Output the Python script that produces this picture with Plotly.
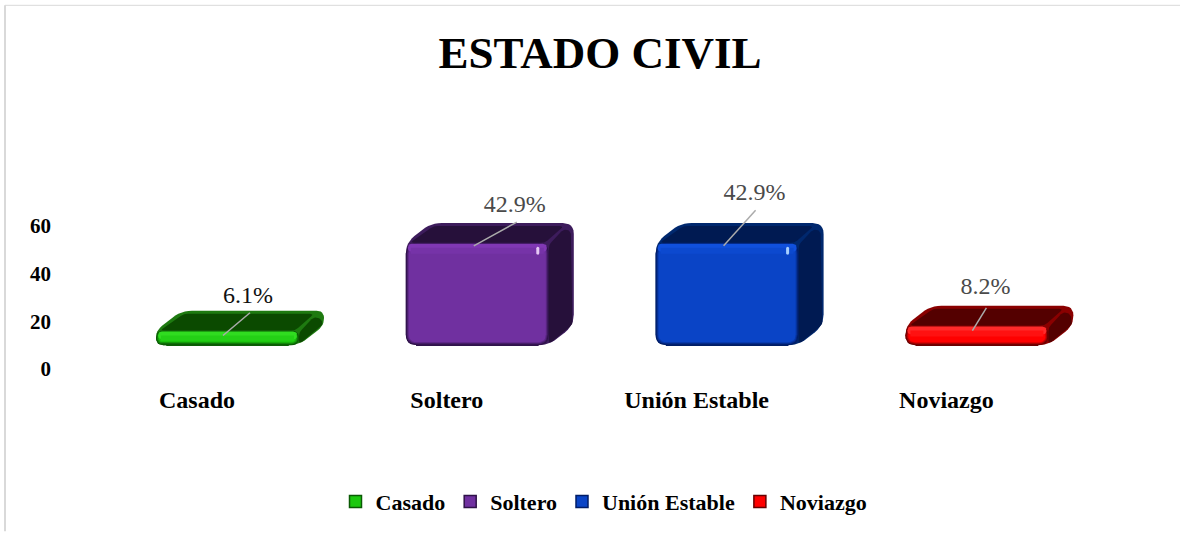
import math
import plotly.graph_objects as go

# ---- data ----
categories = ["Casado", "Soltero", "Unión Estable", "Noviazgo"]
values = [6.1, 42.9, 42.9, 8.2]
tick_values = [0, 20, 40, 60]
title_text = "ESTADO CIVIL"

# ---- style ----
face = ["#1CC80F", "#7030A0", "#0A44C6", "#FF0000"]
bright = ["#30DC20", "#8038B4", "#1050DC", "#FF2A2A"]
edge = ["#0A5A04", "#2E1248", "#001C66", "#660000"]
top_c = ["#0B4A00", "#26103A", "#001A52", "#540000"]
rim = ["#1E7A10", "#3D1C5C", "#00286E", "#8A0000"]
label_c = ["#111111", "#4A4A4A", "#4A4A4A", "#4A4A4A"]
FONT = "Liberation Serif"

W, H = 1189, 535
L, R, T, B = 60, 49, 178, 164      # margins
CAT0_PX, CAT_STEP = 197.0, 249.8   # pixel of first category, category spacing
ZERO_PX, Y_SCALE = 371.0, 2.41     # pixel of y=0, pixels per unit
FLOOR = 10.0                       # the 3-D floor sits above the axis zero
BAR_OFF, BAR_W = -41.0, 143.0      # front-face offset and width, px
DX, DY = 25.0, 20.0                # depth of the extrusion, px
RADIUS = 11.0
# label centre and leader line, relative to (front-left px, front-top px)
label_off = [(92, -34), (109, -37), (99, -49), (80, -38)]
leader_off = [((67, 5), (94, -18)), ((68, 3), (111, -21)), ((68, 3), (100, -33)), ((67, 5), (81, -18))]


def xd(px):
    return (px - CAT0_PX) / CAT_STEP


def yd(py):
    return (ZERO_PX - py) / Y_SCALE


def ypx(v):
    return ZERO_PX - v * Y_SCALE


def rounded(points, r):
    """Rounded polygon (pixel space), corners sampled as quadratic curves."""
    n = len(points)
    out = []
    for i in range(n):
        p0, p1, p2 = points[i - 1], points[i], points[(i + 1) % n]
        d1 = math.dist(p0, p1)
        d2 = math.dist(p1, p2)
        rr = min(r, d1 / 2, d2 / 2)
        a = (p1[0] + (p0[0] - p1[0]) * rr / d1, p1[1] + (p0[1] - p1[1]) * rr / d1)
        b = (p1[0] + (p2[0] - p1[0]) * rr / d2, p1[1] + (p2[1] - p1[1]) * rr / d2)
        for k in range(7):
            t = k / 6
            out.append(((1 - t) ** 2 * a[0] + 2 * t * (1 - t) * p1[0] + t * t * b[0],
                        (1 - t) ** 2 * a[1] + 2 * t * (1 - t) * p1[1] + t * t * b[1]))
    out.append(out[0])
    return out


def mix(c1, c2, t):
    a = [int(c1[i:i + 2], 16) for i in (1, 3, 5)]
    b = [int(c2[i:i + 2], 16) for i in (1, 3, 5)]
    return "#%02X%02X%02X" % tuple(round(a[i] + (b[i] - a[i]) * t) for i in range(3))


def poly(pts, color):
    return go.Scatter(x=[xd(p[0]) for p in pts], y=[yd(p[1]) for p in pts],
                      mode="lines", fill="toself", fillcolor=color,
                      line=dict(width=0, color=color), hoverinfo="skip", showlegend=False)


def rect(x0, x1, y0, y1):
    return [(x0, y0), (x1, y0), (x1, y1), (x0, y1)]


fig = go.Figure()
xpos = list(range(len(categories)))

# real bars (carry values and legend); the bevelled faces are drawn over them
for i, (c, v) in enumerate(zip(categories, values)):
    fig.add_trace(go.Bar(
        x=[i], y=[v], base=FLOOR, name=c,
        width=(BAR_W - 2 * RADIUS) / CAT_STEP,
        offset=(BAR_OFF + RADIUS) / CAT_STEP,
        marker=dict(color=face[i], line=dict(color=edge[i], width=1.5)),
        hovertemplate="%{fullData.name}: " + str(v) + "%<extra></extra>",
    ))

for i, v in enumerate(values):
    x0 = CAT0_PX + i * CAT_STEP + BAR_OFF
    x1 = x0 + BAR_W
    y1 = ypx(FLOOR)
    y0 = ypx(FLOOR + v)
    # extruded silhouette
    sil = [(x0, y1), (x0, y0), (x0 + DX, y0 - DY), (x1 + DX, y0 - DY), (x1 + DX, y1 - DY), (x1, y1)]
    fig.add_trace(poly(rounded(sil, RADIUS), rim[i]))
    # dark top and side planes
    fig.add_trace(poly(rounded([(x0 + 4, y0), (x0 + DX + 3, y0 - DY + 3), (x1 + DX - 10, y0 - DY + 3), (x1 - 4, y0)], 4), top_c[i]))
    fig.add_trace(poly(rounded([(x1, y0 + 2), (x1 + DX - 10, y0 - DY + 6), (x1 + DX - 3, y0 - DY + 8),
                                (x1 + DX - 1, y1 - DY - 1), (x1, y1 - 1)], 4), top_c[i]))
    # front face with bevel rings
    for inset, t in [(0, 0.0), (1, 0.35), (2, 0.7), (3, 1.0)]:
        fig.add_trace(poly(rounded(rect(x0 + inset, x1 - inset, y0 + inset, y1 - inset),
                                   max(RADIUS - inset, 2)), mix(edge[i], face[i], t)))
    h = y1 - y0
    fig.add_trace(poly(rounded(rect(x0 + 2, x1 - 2, y0 + 1, y0 + min(9, h * 0.6)), min(RADIUS - 2, 4)), bright[i]))
    fig.add_trace(poly(rect(x0 + 5, x1 - 5, y0 + min(5, h * 0.35), y0 + min(11, h * 0.7)), mix(bright[i], face[i], 0.6)))
    if v > 20:
        sx, sy = x1 - 11, y0 + 8
        fig.add_trace(poly(rounded(rect(sx - 1.5, sx + 1.5, sy - 4, sy + 4), 1.5), "#E6C8F5" if i == 1 else "#A8D0FF"))
    # leader line
    (ax, ay), (bx, by) = leader_off[i]
    fig.add_trace(go.Scatter(x=[xd(x0 + ax), xd(x0 + bx)], y=[yd(y0 + ay), yd(y0 + by)], mode="lines",
                             line=dict(color="#ABABAB", width=1.5), hoverinfo="skip", showlegend=False))

# data labels
fig.add_trace(go.Scatter(
    x=[xd(CAT0_PX + i * CAT_STEP + BAR_OFF + label_off[i][0]) for i in xpos],
    y=[yd(ypx(FLOOR + values[i]) + label_off[i][1]) for i in xpos],
    text=[f"{v:.1f}%" for v in values], mode="text", textposition="middle center",
    textfont=dict(family=FONT, size=24, color=label_c), cliponaxis=False,
    hoverinfo="skip", showlegend=False))

plot_w = W - L - R
plot_h = H - T - B
fig.update_layout(
    width=W, height=H, autosize=False,
    margin=dict(l=L, r=R, t=T, b=B, pad=0),
    paper_bgcolor="white", plot_bgcolor="white",
    font=dict(family=FONT, color="black"),
    barmode="overlay", showlegend=True,
    title=dict(text=f"<b>{title_text}</b>", x=600 / W, xanchor="center", y=1 - 52 / H, yanchor="middle",
               font=dict(family=FONT, size=45, color="black")),
    xaxis=dict(range=[xd(L), xd(L + plot_w)], tickmode="array", tickvals=xpos,
               ticktext=[f"<b>{c}</b>" for c in categories], showgrid=False, zeroline=False,
               showline=False, ticks="", ticklabelstandoff=14,
               tickfont=dict(family=FONT, size=24, color="black"), fixedrange=True),
    yaxis=dict(range=[0, plot_h / Y_SCALE], tickmode="array", tickvals=tick_values,
               ticktext=[f"<b>{t}</b>" for t in tick_values], showgrid=False, zeroline=False,
               showline=False, ticks="", ticklabelstandoff=8,
               tickfont=dict(family=FONT, size=21, color="black"), fixedrange=True),
    legend=dict(orientation="h", x=(604 - L) / plot_w, xanchor="center", y=(ZERO_PX - 505) / plot_h, yanchor="middle",
                font=dict(family=FONT, size=22, color="black", weight="bold"), bgcolor="rgba(0,0,0,0)"),
    shapes=[
        dict(type="line", xref="paper", yref="paper", x0=(5 - L) / plot_w, x1=(1180 - L) / plot_w,
             y0=(ZERO_PX - 3.5) / plot_h, y1=(ZERO_PX - 3.5) / plot_h, line=dict(color="#D9D9D9", width=1)),
        dict(type="line", xref="paper", yref="paper", x0=(5 - L) / plot_w, x1=(5 - L) / plot_w,
             y0=(ZERO_PX - 3.5) / plot_h, y1=(ZERO_PX - 535) / plot_h, line=dict(color="#D9D9D9", width=2)),
    ],
)

fig.write_html("out.html", config={"displayModeBar": False},
               post_script="document.body.style.margin='0';")
